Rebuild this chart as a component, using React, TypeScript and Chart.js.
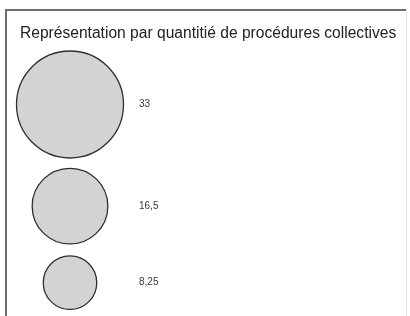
import React, { useEffect, useRef } from "react";
import { Chart, registerables } from "chart.js";

Chart.register(...registerables);

const titleText = "Représentation par quantitié de procédures collectives";
const sizeValues = [33, 16.5, 8.25];
const sizeLabels = ["33", "16,5", "8,25"];

const MAX_RADIUS = 53.5;
const GAPS = [0.2, 10.3, 12];
const COLUMN_X = 50;
const LABEL_X = 119;

function radiusOf(v: number) {
  return MAX_RADIUS * Math.sqrt(v / sizeValues[0]);
}

function stackedY(): number[] {
  const ys: number[] = [];
  let cursor = 0;
  sizeValues.forEach((v, i) => {
    const r = radiusOf(v);
    cursor += GAPS[i] + r;
    ys.push(cursor);
    cursor += r;
  });
  return ys;
}

const frameAndLabels = {
  id: "frameAndLabels",
  beforeDraw(chart: any) {
    const { ctx } = chart;
    ctx.save();
    ctx.fillStyle = "#ffffff";
    ctx.fillRect(0, 0, chart.width, chart.height);
    ctx.strokeStyle = "#e2e2e2";
    ctx.lineWidth = 1;
    ctx.beginPath();
    ctx.moveTo(406.5, 9);
    ctx.lineTo(406.5, chart.height);
    ctx.stroke();
    ctx.strokeStyle = "#6e6e6e";
    ctx.lineWidth = 2;
    ctx.beginPath();
    ctx.moveTo(6, chart.height);
    ctx.lineTo(6, 10);
    ctx.lineTo(406, 10);
    ctx.stroke();
    ctx.restore();
  },
  afterDatasetsDraw(chart: any) {
    const { ctx } = chart;
    const meta = chart.getDatasetMeta(0);
    const xScale = chart.scales.x;
    ctx.save();
    ctx.fillStyle = "#3a3a3a";
    ctx.font = "10px 'Liberation Sans', Arial, sans-serif";
    ctx.textAlign = "left";
    ctx.textBaseline = "middle";
    meta.data.forEach((el: any, i: number) => {
      ctx.fillText(sizeLabels[i], xScale.getPixelForValue(LABEL_X), el.y);
    });
    ctx.restore();
  },
};

export default function App() {
  const ref = useRef<HTMLCanvasElement>(null);

  useEffect(() => {
    document.body.style.margin = "0";
    const ys = stackedY();
    const chart = new Chart(ref.current!, {
      type: "bubble",
      data: {
        datasets: [
          {
            data: sizeValues.map((v, i) => ({ x: COLUMN_X, y: ys[i], r: radiusOf(v) })),
            backgroundColor: "#d3d3d3",
            borderColor: "#2e2e2e",
            borderWidth: 1.3,
            hoverRadius: 0,
            clip: false,
          } as any,
        ],
      },
      options: {
        responsive: false,
        animation: false,
        events: [],
        layout: { autoPadding: false, padding: { top: 10, left: 20, right: 0, bottom: 0 } },
        scales: {
          x: { type: "linear", min: 0, max: 390, display: false },
          y: { type: "linear", min: 0, max: 265.2, reverse: true, display: false },
        },
        plugins: {
          legend: { display: false },
          tooltip: { enabled: false },
          title: {
            display: true,
            text: titleText,
            align: "start",
            color: "#222222",
            font: { family: "'Liberation Sans', Arial, sans-serif", size: 15.6, weight: "normal", lineHeight: 1.2 },
            padding: { top: 14, bottom: 8.08 },
          },
        },
      },
      plugins: [frameAndLabels],
    });
    return () => chart.destroy();
  }, []);

  return (
    <div style={{ width: 410, height: 316, overflow: "hidden" }}>
      <canvas ref={ref} width={410} height={316} style={{ display: "block" }} />
    </div>
  );
}
